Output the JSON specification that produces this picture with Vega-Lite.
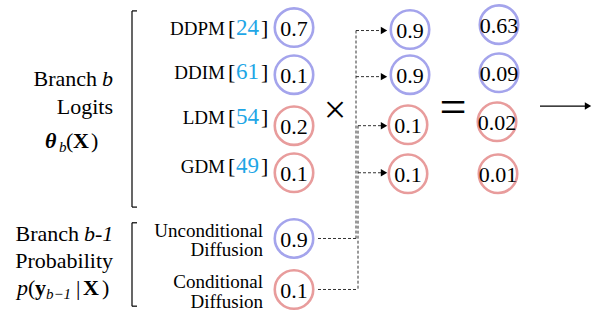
{
  "$schema": "https://vega.github.io/schema/vega-lite/v6.json",
  "width": 597,
  "height": 315,
  "autosize": {"type": "fit", "contains": "padding"},
  "padding": 0,
  "background": "white",
  "config": {"view": {"stroke": null}},
  "data": {"values": [
    {"r": "dash", "x": 318, "y": 237, "x2": 357, "y2": 237},
    {"r": "dash", "x": 318, "y": 289, "x2": 358, "y2": 289},
    {"r": "dash", "x": 356, "y": 25, "x2": 356, "y2": 237},
    {"r": "dash", "x": 358, "y": 122, "x2": 358, "y2": 289},
    {"r": "dash", "x": 356, "y": 25, "x2": 382, "y2": 25},
    {"r": "dash", "x": 356, "y": 72, "x2": 382, "y2": 72},
    {"r": "dash", "x": 358, "y": 122, "x2": 382, "y2": 122},
    {"r": "dash", "x": 358, "y": 170, "x2": 382, "y2": 170},
    {"r": "line", "x": 132, "y": 5, "x2": 132, "y2": 205},
    {"r": "line", "x": 132, "y": 5, "x2": 137, "y2": 5},
    {"r": "line", "x": 132, "y": 205, "x2": 137, "y2": 205},
    {"r": "line", "x": 132, "y": 221, "x2": 132, "y2": 306},
    {"r": "line", "x": 132, "y": 221, "x2": 137, "y2": 221},
    {"r": "line", "x": 132, "y": 306, "x2": 137, "y2": 306},
    {"r": "line", "x": 540, "y": 102, "x2": 586, "y2": 102},
    {"r": "head", "x": 384, "y": 25},
    {"r": "head", "x": 384, "y": 72},
    {"r": "head", "x": 384, "y": 122},
    {"r": "head", "x": 384, "y": 170},
    {"r": "head", "x": 588, "y": 102},
    {"r": "c", "x": 294, "y": 22, "k": "u", "t": "0.7"},
    {"r": "c", "x": 294, "y": 70, "k": "u", "t": "0.1"},
    {"r": "c", "x": 294, "y": 122, "k": "c", "t": "0.2"},
    {"r": "c", "x": 294, "y": 170, "k": "c", "t": "0.1"},
    {"r": "c", "x": 294, "y": 237, "k": "u", "t": "0.9"},
    {"r": "c", "x": 294, "y": 289, "k": "c", "t": "0.1"},
    {"r": "c", "x": 410, "y": 24, "k": "u", "t": "0.9"},
    {"r": "c", "x": 410, "y": 70, "k": "u", "t": "0.9"},
    {"r": "c", "x": 408, "y": 121, "k": "c", "t": "0.1"},
    {"r": "c", "x": 408, "y": 171, "k": "c", "t": "0.1"},
    {"r": "c", "x": 499, "y": 19, "k": "u", "t": "0.63"},
    {"r": "c", "x": 499, "y": 68, "k": "u", "t": "0.09"},
    {"r": "c", "x": 497, "y": 118, "k": "c", "t": "0.02"},
    {"r": "c", "x": 498, "y": 171, "k": "c", "t": "0.01"},
    {"r": "lr22", "x": 97, "y": 82, "t": "Branch"},
    {"r": "lr22", "x": 113, "y": 110, "t": "Logits"},
    {"r": "lr22", "x": 79, "y": 240, "t": "Branch"},
    {"r": "lr22", "x": 113, "y": 267, "t": "Probability"},
    {"r": "i22", "x": 102, "y": 82, "t": "b"},
    {"r": "i22", "x": 84, "y": 240, "t": "b-1"},
    {"r": "i22", "x": 17, "y": 295, "t": "p"},
    {"r": "bi22", "x": 45, "y": 145, "t": "θ"},
    {"r": "sub", "x": 59, "y": 149, "t": "b"},
    {"r": "sub", "x": 46, "y": 299, "t": "b−1"},
    {"r": "reg22", "x": 66, "y": 145, "t": "("},
    {"r": "reg22", "x": 91, "y": 145, "t": ")"},
    {"r": "reg22", "x": 28, "y": 295, "t": "("},
    {"r": "reg22", "x": 76, "y": 295, "t": "|"},
    {"r": "reg22", "x": 102, "y": 295, "t": ")"},
    {"r": "b22", "x": 73, "y": 145, "t": "X"},
    {"r": "b22", "x": 35, "y": 295, "t": "y"},
    {"r": "b22", "x": 83, "y": 295, "t": "X"},
    {"r": "n19", "x": 225, "y": 30, "t": "DDPM"},
    {"r": "n19", "x": 225, "y": 74, "t": "DDIM"},
    {"r": "n19", "x": 225, "y": 120, "t": "LDM"},
    {"r": "n19", "x": 225, "y": 170, "t": "GDM"},
    {"r": "reg22", "x": 228, "y": 30, "t": "["},
    {"r": "reg22", "x": 261, "y": 30, "t": "]"},
    {"r": "reg22", "x": 228, "y": 74, "t": "["},
    {"r": "reg22", "x": 261, "y": 74, "t": "]"},
    {"r": "reg22", "x": 228, "y": 120, "t": "["},
    {"r": "reg22", "x": 261, "y": 120, "t": "]"},
    {"r": "reg22", "x": 228, "y": 170, "t": "["},
    {"r": "reg22", "x": 261, "y": 170, "t": "]"},
    {"r": "cite", "x": 236, "y": 30, "t": "24"},
    {"r": "cite", "x": 236, "y": 74, "t": "61"},
    {"r": "cite", "x": 236, "y": 120, "t": "54"},
    {"r": "cite", "x": 236, "y": 170, "t": "49"},
    {"r": "n19", "x": 263, "y": 235, "t": "Unconditional"},
    {"r": "n19", "x": 263, "y": 255, "t": "Diffusion"},
    {"r": "n19", "x": 263, "y": 287, "t": "Conditional"},
    {"r": "n19", "x": 263, "y": 308, "t": "Diffusion"},
    {"r": "times", "x": 335, "y": 107, "t": "×"},
    {"r": "eq", "x": 453, "y": 105, "t": "="}
  ]},
  "encoding": {
    "x": {"field": "x", "type": "quantitative", "scale": {"domain": [0, 597], "nice": false, "zero": false}, "axis": null},
    "y": {"field": "y", "type": "quantitative", "scale": {"domain": [0, 315], "reverse": true, "nice": false, "zero": false}, "axis": null}
  },
  "layer": [
    {"transform": [{"filter": "datum.r === 'dash'"}],
     "mark": {"type": "rule", "color": "#333333", "strokeWidth": 1, "strokeDash": [3, 2]},
     "encoding": {"x2": {"field": "x2"}, "y2": {"field": "y2"}}},
    {"transform": [{"filter": "datum.r === 'line'"}],
     "mark": {"type": "rule", "color": "black", "strokeWidth": 1.2},
     "encoding": {"x2": {"field": "x2"}, "y2": {"field": "y2"}}},
    {"transform": [{"filter": "datum.r === 'head'"}],
     "mark": {"type": "point", "shape": "triangle-right", "filled": true, "color": "black", "opacity": 1, "size": 55}},
    {"transform": [{"filter": "datum.r === 'c'"}],
     "mark": {"type": "point", "shape": "circle", "filled": false, "size": 1480, "strokeWidth": 2.6, "opacity": 1},
     "encoding": {"color": {"field": "k", "type": "nominal", "scale": {"domain": ["u", "c"], "range": ["#a4a4ec", "#e89c9c"]}, "legend": null}}},
    {"transform": [{"filter": "datum.r === 'c'"}],
     "mark": {"type": "text", "font": "Liberation Serif", "fontSize": 22, "align": "center", "baseline": "middle", "dy": 1.5, "color": "black"},
     "encoding": {"text": {"field": "t"}}},
    {"transform": [{"filter": "datum.r === 'lr22'"}],
     "mark": {"type": "text", "font": "Liberation Serif", "fontSize": 22, "align": "right", "baseline": "alphabetic", "color": "black"},
     "encoding": {"text": {"field": "t"}}},
    {"transform": [{"filter": "datum.r === 'i22'"}],
     "mark": {"type": "text", "font": "Liberation Serif", "fontSize": 22, "fontStyle": "italic", "align": "left", "baseline": "alphabetic", "color": "black"},
     "encoding": {"text": {"field": "t"}}},
    {"transform": [{"filter": "datum.r === 'bi22'"}],
     "mark": {"type": "text", "font": "Liberation Serif", "fontSize": 22, "fontStyle": "italic", "fontWeight": "bold", "align": "left", "baseline": "alphabetic", "color": "black"},
     "encoding": {"text": {"field": "t"}}},
    {"transform": [{"filter": "datum.r === 'sub'"}],
     "mark": {"type": "text", "font": "Liberation Serif", "fontSize": 15, "fontStyle": "italic", "align": "left", "baseline": "alphabetic", "color": "black"},
     "encoding": {"text": {"field": "t"}}},
    {"transform": [{"filter": "datum.r === 'reg22'"}],
     "mark": {"type": "text", "font": "Liberation Serif", "fontSize": 22, "align": "left", "baseline": "alphabetic", "color": "black"},
     "encoding": {"text": {"field": "t"}}},
    {"transform": [{"filter": "datum.r === 'b22'"}],
     "mark": {"type": "text", "font": "Liberation Serif", "fontSize": 22, "fontWeight": "bold", "align": "left", "baseline": "alphabetic", "color": "black"},
     "encoding": {"text": {"field": "t"}}},
    {"transform": [{"filter": "datum.r === 'n19'"}],
     "mark": {"type": "text", "font": "Liberation Serif", "fontSize": 19, "align": "right", "baseline": "alphabetic", "color": "black"},
     "encoding": {"text": {"field": "t"}}},
    {"transform": [{"filter": "datum.r === 'cite'"}],
     "mark": {"type": "text", "font": "Liberation Serif", "fontSize": 23, "align": "left", "baseline": "alphabetic", "color": "#1ea6e6"},
     "encoding": {"text": {"field": "t"}}},
    {"transform": [{"filter": "datum.r === 'times'"}],
     "mark": {"type": "text", "font": "Liberation Serif", "fontSize": 40, "align": "center", "baseline": "middle", "color": "black"},
     "encoding": {"text": {"field": "t"}}},
    {"transform": [{"filter": "datum.r === 'eq'"}],
     "mark": {"type": "text", "font": "Liberation Serif", "fontSize": 48, "align": "center", "baseline": "middle", "color": "black"},
     "encoding": {"text": {"field": "t"}}}
  ]
}
